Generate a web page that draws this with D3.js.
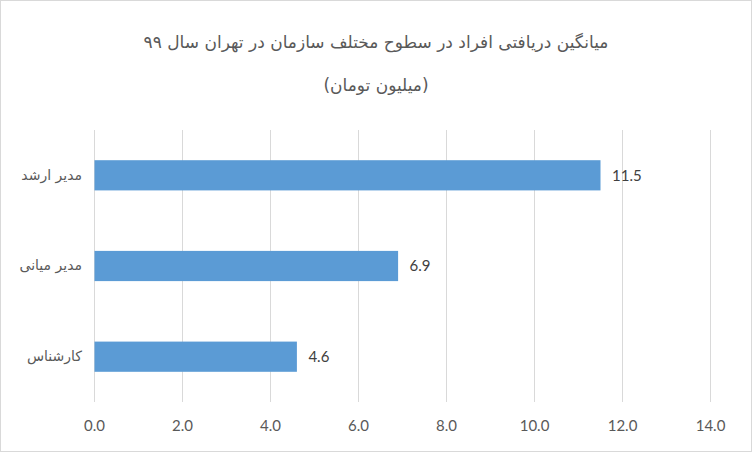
<!DOCTYPE html>
<html><head><meta charset="utf-8">
<script src="https://cdn.jsdelivr.net/npm/d3@7"></script>
<style>body{margin:0;background:#fff}svg{display:block}</style>
</head><body>
<script>
const categories = ["مدیر ارشد", "مدیر میانی", "کارشناس"];
const values = [11.5, 6.9, 4.6];
const tickValues = [0, 2, 4, 6, 8, 10, 12, 14];
const titleLines = ["میانگین دریافتی افراد در سطوح مختلف سازمان در تهران سال ۹۹", "(میلیون تومان)"];

const W = 752, H = 452;
const svg = d3.select("body").append("svg").attr("width", W).attr("height", H);
svg.append("rect").attr("x", 0.5).attr("y", 0.5).attr("width", W - 1).attr("height", H - 1)
  .attr("fill", "#fff").attr("stroke", "#d9d9d9");

const m = {left: 94, right: 42, top: 130, bottom: 50};
const x = d3.scaleLinear().domain([0, 14]).range([m.left, W - m.right]);
const y = d3.scaleBand().domain(categories).range([m.top, H - m.bottom]).paddingInner(0.667).paddingOuter(0.333);

// gridlines
svg.append("g").selectAll("line").data(tickValues).join("line")
  .attr("x1", d => x(d) + 0.5).attr("x2", d => x(d) + 0.5)
  .attr("y1", m.top).attr("y2", H - m.bottom)
  .attr("stroke", "#d9d9d9").attr("stroke-width", 1);

// x axis labels
const xAxis = d3.axisBottom(x).tickValues(tickValues).tickFormat(d3.format(".1f")).tickSize(0).tickPadding(18);
const gx = svg.append("g").attr("transform", `translate(0,${H - m.bottom})`).call(xAxis);
gx.select(".domain").remove();
gx.selectAll("text").attr("fill", "#595959").style("font-family", "Lato, 'Open Sans', sans-serif").style("font-size", "15px");

// y axis labels
const yAxis = d3.axisLeft(y).tickSize(0).tickPadding(12);
const gy = svg.append("g").attr("transform", `translate(${m.left},0)`).call(yAxis);
gy.select(".domain").remove();
gy.selectAll("text").attr("fill", "#595959").style("font-family", "'DejaVu Sans', sans-serif").style("font-size", "14px");

// bars
svg.append("g").selectAll("rect").data(values).join("rect")
  .attr("x", x(0) + 0.5).attr("y", (d, i) => y(categories[i]))
  .attr("width", d => x(d) - x(0)).attr("height", y.bandwidth())
  .attr("fill", "#5B9BD5");

// data labels
svg.append("g").selectAll("text").data(values).join("text")
  .attr("x", d => x(d) + 12).attr("y", (d, i) => y(categories[i]) + y.bandwidth() / 2)
  .attr("dy", "0.35em").attr("fill", "#404040")
  .style("font-family", "Lato, 'Open Sans', sans-serif").style("font-size", "15px")
  .text(d => d3.format(".1f")(d));

// title
svg.append("g").selectAll("text").data(titleLines).join("text")
  .attr("x", W / 2).attr("y", (d, i) => 42 + i * 43)
  .attr("text-anchor", "middle").attr("dy", "0.35em").attr("direction", "rtl")
  .attr("fill", "#595959").style("font-family", "'DejaVu Sans', sans-serif").style("font-size", "17px")
  .text(d => d);
</script>
</body></html>
